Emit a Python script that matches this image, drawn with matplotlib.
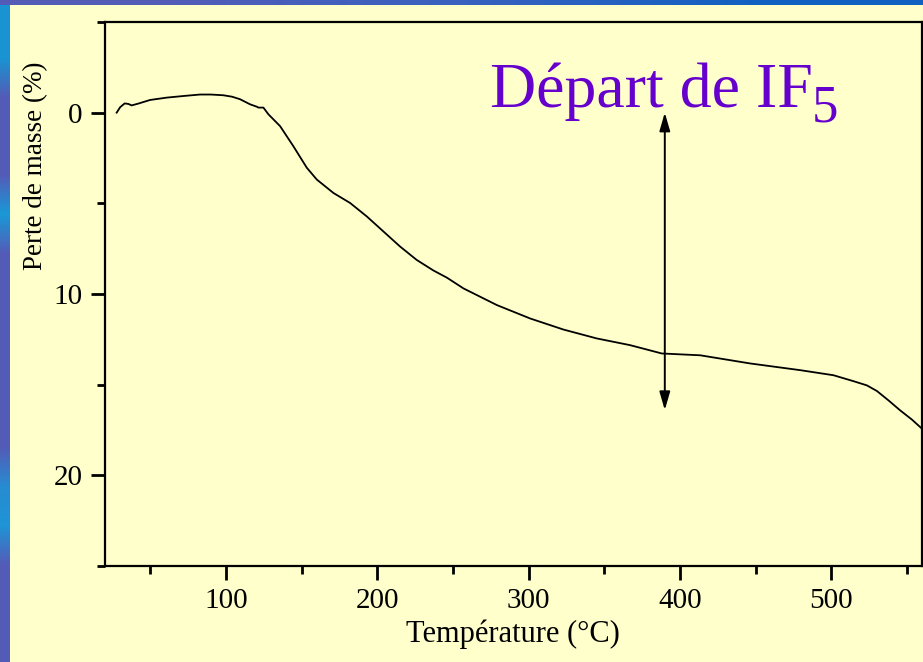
import numpy as np
import matplotlib
matplotlib.use("Agg")
import matplotlib.pyplot as plt

# --- ATG de l'echantillon : perte de masse en fonction de la temperature ---
temperature = [27.7, 30, 33, 35.5, 37.6, 42, 49.8, 60.8, 72, 82.8, 90, 98.2, 104,
               109.3, 115.9, 120.3, 121.4, 124.7, 128, 135.7, 144.5, 153.4, 160,
               171, 182, 193, 204, 215, 226, 237, 246, 256.9, 279, 301, 323, 345,
               367, 378, 388, 413.4, 446.4, 479.5, 501.5, 514.8, 523.6, 530.2,
               537.9, 545.6, 553.4, 560]
perte_masse = [0.0, -0.3, -0.51, -0.48, -0.40, -0.50, -0.70, -0.83, -0.92, -1.0,
               -1.0, -0.96, -0.88, -0.74, -0.46, -0.33, -0.28, -0.28, 0.09, 0.74,
               1.85, 3.04, 3.69, 4.43, 4.98, 5.72, 6.55, 7.38, 8.12, 8.7, 9.1,
               9.69, 10.61, 11.35, 11.96, 12.45, 12.82, 13.06, 13.28, 13.38, 13.83,
               14.2, 14.48, 14.81, 15.04, 15.35, 15.87, 16.42, 16.93, 17.43]

# fleche du depart de IF5
t_depart = 390
fleche_haut = 0.0
fleche_bas = 16.4

x_major = [100, 200, 300, 400, 500]
x_minor = [50, 150, 250, 350, 450, 550]
y_major = [0, 10, 20]
y_minor = [-5, 5, 15, 25]

fond = "#FFFFCC"
violet = "#6600CC"

plt.rcParams['font.family'] = ['Liberation Serif', 'DejaVu Serif']

fig = plt.figure(figsize=(9.23, 6.62), dpi=100, facecolor=fond)

# --- bandes bleues du fond de diapo ---
bande_g = fig.add_axes([0, 0, 10 / 923, 1])
couleurs_g = np.array([
    [0.10, 0.58, 0.82], [0.10, 0.58, 0.82], [0.33, 0.36, 0.72], [0.33, 0.36, 0.72],
    [0.33, 0.36, 0.72], [0.10, 0.60, 0.84], [0.33, 0.36, 0.72], [0.33, 0.36, 0.72],
    [0.33, 0.36, 0.72], [0.33, 0.36, 0.72], [0.33, 0.36, 0.72], [0.33, 0.36, 0.72],
    [0.15, 0.55, 0.82], [0.12, 0.58, 0.84], [0.33, 0.36, 0.72], [0.33, 0.36, 0.72],
    [0.33, 0.36, 0.72],
])[:, None, :]
bande_g.imshow(couleurs_g, aspect='auto', interpolation='bilinear')
bande_g.axis('off')

bande_h = fig.add_axes([0, 1 - 5 / 662, 1, 5 / 662])
couleurs_h = np.array([[0.33, 0.36, 0.72], [0.22, 0.38, 0.75], [0.06, 0.38, 0.76]])[None, :, :]
bande_h.imshow(couleurs_h, aspect='auto', interpolation='bilinear')
bande_h.axis('off')

# --- graphe principal ---
ax = fig.add_axes([105 / 923, 96 / 662, 817 / 923, 544 / 662], facecolor=fond)
ax.plot(temperature, perte_masse, color='black', lw=1.3)

ax.set_xlim(20, 560)
ax.set_ylim(25, -5)
ax.set_xticks(x_major)
ax.set_xticks(x_minor, minor=True)
ax.set_yticks(y_major)
ax.set_yticks(y_minor, minor=True)
ax.tick_params(which='major', direction='out', length=10, width=2, labelsize=21, pad=6)
ax.tick_params(which='minor', direction='out', length=6, width=2)
for s in ax.spines.values():
    s.set_linewidth(1.6)

# titres des axes
fig.text(513 / 923, 20 / 662, 'Température (°C)', fontsize=22,
         ha='center', va='baseline')
fig.text(36 / 923, 1 - 166 / 662, 'Perte de masse (%)', fontsize=19.5,
         rotation=90, ha='center', va='center')

ax.annotate('', xy=(t_depart, fleche_haut), xytext=(t_depart, fleche_bas),
            arrowprops=dict(arrowstyle='<|-|>,head_length=0.55,head_width=0.16',
                            color='black', lw=1.4, shrinkA=0, shrinkB=0,
                            mutation_scale=20))

fig.text(490 / 923, 1 - 107 / 662, 'Départ de IF', color=violet, fontsize=46,
         ha='left', va='baseline')
fig.text(812 / 923, 1 - 122 / 662, '5', color=violet, fontsize=38,
         ha='left', va='baseline')

fig.savefig('out.png', dpi=100, facecolor=fond)
